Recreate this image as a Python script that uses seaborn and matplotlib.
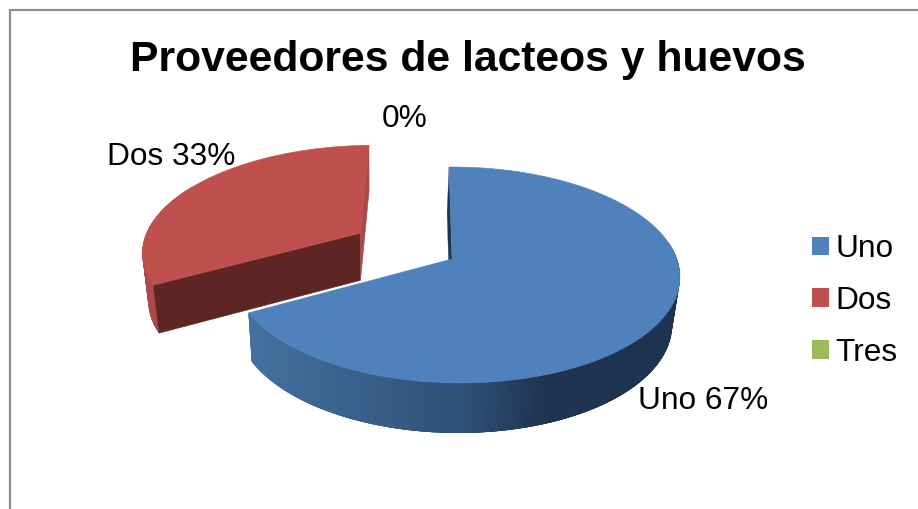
import numpy as np
import seaborn as sns
import matplotlib
matplotlib.use("Agg")
import matplotlib.pyplot as plt
from matplotlib.collections import PolyCollection
from matplotlib.colors import LinearSegmentedColormap
from matplotlib.patches import Patch, Polygon

# Chart content
title = "Proveedores de lacteos y huevos"
categories = ["Uno", "Dos", "Tres"]
shares = [67, 33, 0]
top_colors = ["#4F81BD", "#C0504D", "#9BBB59"]

sns.set_theme(style="white", rc={"axes.facecolor": "white", "figure.facecolor": "white"})
plt.rcParams["font.family"] = ["Liberation Sans", "DejaVu Sans"]

# Perspective model of the tilted pie, in figure pixels
CX, CY = 452.0, 259.0
A, B, C = 221.0, 105.6, -3.4
K, M = 0.148, -0.017
DEPTH_X_SCALE, DEPTH_X_SHIFT = 0.9745, 450.0
EXPLODE = {"Dos": (0.5, 1.035)}


def project(u, v):
    den = 1 + K * v + M * u
    return CX + (A * u + C * v) / den, CY - B * v / den


def extrude(x, y):
    """Map a point of the upper surface to the underside of the pie."""
    x = np.asarray(x, dtype=float)
    y = np.asarray(y, dtype=float)
    return DEPTH_X_SHIFT + DEPTH_X_SCALE * (x - CX), y + 47.5 + 0.02 * (y - CY)


def wedge_points(start, stop, offset, scale, n=160):
    ang = np.radians(np.linspace(start, stop, n))
    mid = np.radians((start + stop) / 2)
    ou, ov = offset * np.sin(mid), offset * np.cos(mid)
    return project(ou + scale * np.sin(ang), ov + scale * np.cos(ang)), project(ou, ov)


def wall(ax, xs, ys, colors, overlap=4):
    # Each strip runs a few steps past its neighbour so no seams show between them
    bx, by = extrude(xs, ys)
    quads = []
    for i in range(len(xs) - 1):
        j = min(i + overlap, len(xs) - 1)
        quads.append(np.r_[np.c_[xs[i:j + 1], ys[i:j + 1]], np.c_[bx[i:j + 1], by[i:j + 1]][::-1]])
    ax.add_collection(PolyCollection(quads, facecolors=colors, edgecolors="none", linewidths=0))


fig = plt.figure(figsize=(9.18, 5.09), dpi=100)
ax = fig.add_axes([0, 0, 1, 1])
ax.set_xlim(0, 918)
ax.set_ylim(509, 0)
ax.axis("off")

# Chart frame, open past the right and bottom edges
ax.plot([9.5, 9.5, 918], [509, 9.5, 9.5], color="#8C8C8C", lw=1.6, solid_joinstyle="miter")

edges = np.cumsum([0] + shares) * 3.6
blue_side = LinearSegmentedColormap.from_list(
    "blue_side", [(0, "#44709F"), (0.5, "#2F5078"), (0.7, "#1E3450"), (1, "#1D3350")])

# Exploded slice first, so the larger slice sits in front of it
dos = categories.index("Dos")
(rx, ry), (rax, ray) = wedge_points(edges[dos], edges[dos + 1], *EXPLODE["Dos"])
n_wall = int(len(rx) * 0.5)
wall(ax, rx[:n_wall], ry[:n_wall], ["#AC4A47"] * (n_wall - 1))
px, py = extrude([rx[0], rax], [ry[0], ray])
ax.add_patch(Polygon([(rx[0], ry[0]), (rax, ray), (px[1], py[1]), (px[0], py[0])],
                     fc="#5D2523", ec="#5D2523", lw=0.4))
qx, qy = extrude([rx[-1], rax], [ry[-1], ray])
ax.add_patch(Polygon([(rx[-1], ry[-1]), (qx[0], qy[0]), (qx[1], qy[1]), (rax, ray)],
                     fc="#A84A48", ec="#A84A48", lw=0.4))
ax.add_patch(Polygon(np.r_[[(rax, ray)], np.c_[rx, ry]], fc=top_colors[dos], ec=top_colors[dos], lw=0.4))

# Main slice: inner edge, rim, then upper surface
uno = categories.index("Uno")
(bx, by), (bax, bay) = wedge_points(edges[uno], edges[uno + 1], 0, 1)
sx, sy = extrude([bx[0], bax], [by[0], bay])
ax.add_patch(Polygon([(bx[0], by[0]), (bax, bay), (sx[1], sy[1]), (sx[0], sy[0])],
                     fc="#1D3350", ec="#1D3350", lw=0.2))
mask = np.linspace(edges[uno], edges[uno + 1], len(bx)) >= 80
wx, wy = bx[mask], by[mask]
# Shade the rim from the lit left end to the dark right side
shade = np.clip((wx[:-1] - 250) / (680 - 250), 0, 1)
wall(ax, wx, wy, blue_side(shade))
ax.add_patch(Polygon(np.r_[[(bax, bay)], np.c_[bx, by]], fc=top_colors[uno], ec=top_colors[uno], lw=0.4))

# Text
TEXT = "#000000"
ax.text(468, 60, title, ha="center", va="center", fontsize=30.7, fontweight="bold", color=TEXT)
ax.text(703, 401, f"{categories[0]} {shares[0]}%", ha="center", va="center", fontsize=22.8, color=TEXT)
ax.text(171.5, 157, f"{categories[1]} {shares[1]}%", ha="center", va="center", fontsize=22.8, color=TEXT)
ax.text(405, 119, f"{shares[2]}%", ha="center", va="center", fontsize=22.8, color=TEXT)

handles = [Patch(fc=c, ec="none") for c in top_colors]
ax.legend(handles, categories, loc="center left", bbox_to_anchor=(812, 301),
          bbox_transform=ax.transData, frameon=False, fontsize=22.8, labelcolor=TEXT,
          handlelength=0.54, handleheight=0.54, handletextpad=0.2,
          labelspacing=0.69, borderpad=0, borderaxespad=0)

fig.savefig("out.png", dpi=100)
